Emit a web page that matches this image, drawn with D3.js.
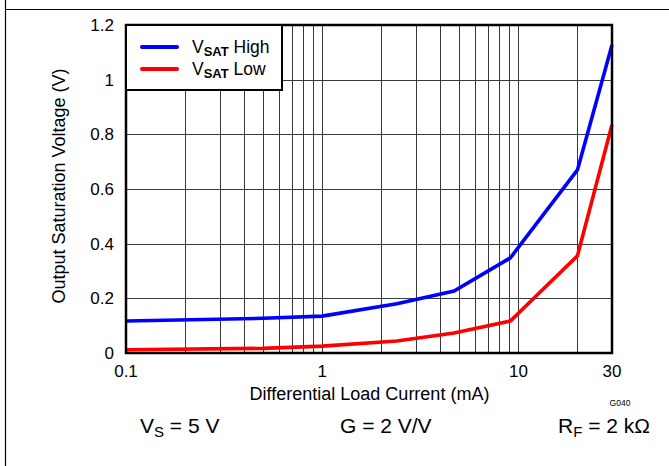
<!DOCTYPE html>
<html><head><meta charset="utf-8">
<script src="https://cdn.jsdelivr.net/npm/d3@7"></script>
<style>body{margin:0;background:#fff}svg{display:block;font-family:"Liberation Sans",Arial,sans-serif}</style>
</head><body><svg id="c" width="669" height="466"></svg>
<script>
const currents = [0.1, 0.5, 1, 2.4, 4.7, 9.1, 20, 30];
const vsatHigh = [0.117, 0.127, 0.135, 0.18, 0.227, 0.348, 0.67, 1.127];
const vsatLow  = [0.012, 0.017, 0.025, 0.044, 0.073, 0.117, 0.356, 0.835];
const xTicks = [0.1, 1, 10, 30];
const xMinor = [0.2,0.3,0.4,0.5,0.6,0.7,0.8,0.9,2,3,4,5,6,7,8,9,20];
const yTicks = [0, 0.2, 0.4, 0.6, 0.8, 1, 1.2];
const yTickLabels = ["0","0.2","0.4","0.6","0.8","1","1.2"];

const svg = d3.select("#c");
const L=126, R=612, T=25, B=353;
const x = d3.scaleLog().domain([0.1,30]).range([L,R]);
const y = d3.scaleLinear().domain([0,1.2]).range([B,T]);

// frame
svg.append("line").attr("x1",5.5).attr("x2",5.5).attr("y1",0).attr("y2",466).attr("stroke","#000").attr("stroke-width",1.2);
svg.append("line").attr("x1",5).attr("x2",669).attr("y1",9.5).attr("y2",9.5).attr("stroke","#000").attr("stroke-width",1.2);

// grid
const g = svg.append("g");
g.selectAll(".vg").data(xMinor.concat([1,10])).join("line")
 .attr("x1",d=>Math.round(x(d))+0.5).attr("x2",d=>Math.round(x(d))+0.5).attr("y1",T).attr("y2",B)
 .attr("stroke","#3a3a3a").attr("stroke-width",1);
g.selectAll(".hg").data(yTicks.slice(1,-1)).join("line")
 .attr("x1",L).attr("x2",R).attr("y1",d=>Math.round(y(d))+0.5).attr("y2",d=>Math.round(y(d))+0.5)
 .attr("stroke","#3a3a3a").attr("stroke-width",1);

// data lines
const line = d3.line().x((d,i)=>x(currents[i])).y(d=>y(d));
svg.append("path").attr("d",line(vsatLow)).attr("fill","none").attr("stroke","#ff0000").attr("stroke-width",3.6).attr("stroke-linejoin","miter");
svg.append("path").attr("d",line(vsatHigh)).attr("fill","none").attr("stroke","#0000ff").attr("stroke-width",3.6).attr("stroke-linejoin","miter");

// plot border
svg.append("rect").attr("x",L).attr("y",T).attr("width",R-L).attr("height",B-T).attr("fill","none").attr("stroke","#000").attr("stroke-width",2.5);

// legend
const lg = svg.append("g");
lg.append("rect").attr("x",L).attr("y",T).attr("width",282-L).attr("height",90-T).attr("fill","#fff").attr("stroke","#000").attr("stroke-width",2);
const legend = [{c:"#0000ff",t:" High",y:47},{c:"#ff0000",t:" Low",y:69}];
legend.forEach(d=>{
  lg.append("line").attr("x1",142).attr("x2",177).attr("y1",d.y).attr("y2",d.y).attr("stroke",d.c).attr("stroke-width",4).attr("stroke-linecap","round");
  const t = lg.append("text").attr("x",192).attr("y",d.y+6).attr("font-size",17.5).attr("fill","#000");
  t.append("tspan").text("V");
  t.append("tspan").attr("font-size",13).attr("font-weight","bold").attr("dy",3).text("SAT");
  t.append("tspan").attr("dy",-3).text(d.t);
});

// axes labels
svg.selectAll(".yl").data(yTicks).join("text").attr("x",114).attr("y",d=>y(d)+6)
 .attr("text-anchor","end").attr("font-size",17).text((d,i)=>yTickLabels[i]);
svg.selectAll(".xl").data(xTicks).join("text").attr("x",d=>x(d)).attr("y",377)
 .attr("text-anchor","middle").attr("font-size",17).text(d=>String(d));
svg.append("text").attr("x",369.5).attr("y",400).attr("text-anchor","middle").attr("font-size",18).text("Differential Load Current (mA)");
svg.append("text").attr("transform","translate(65,186) rotate(-90)").attr("text-anchor","middle").attr("font-size",18).text("Output Saturation Voltage (V)");
svg.append("text").attr("x",620).attr("y",406).attr("text-anchor","middle").attr("font-size",8.5).text("G040");

// conditions
function cond(xp, main, sub, rest){
  const t = svg.append("text").attr("x",xp).attr("y",433).attr("font-size",21);
  t.append("tspan").text(main);
  if(sub){ t.append("tspan").attr("font-size",15).attr("dy",4).text(sub); t.append("tspan").attr("dy",-4).text(rest); }
  else t.append("tspan").text(rest);
}
cond(140,"V","S"," = 5 V");
cond(340,"G = 2 V/V","","");
cond(558,"R","F"," = 2 kΩ");
</script></body></html>
